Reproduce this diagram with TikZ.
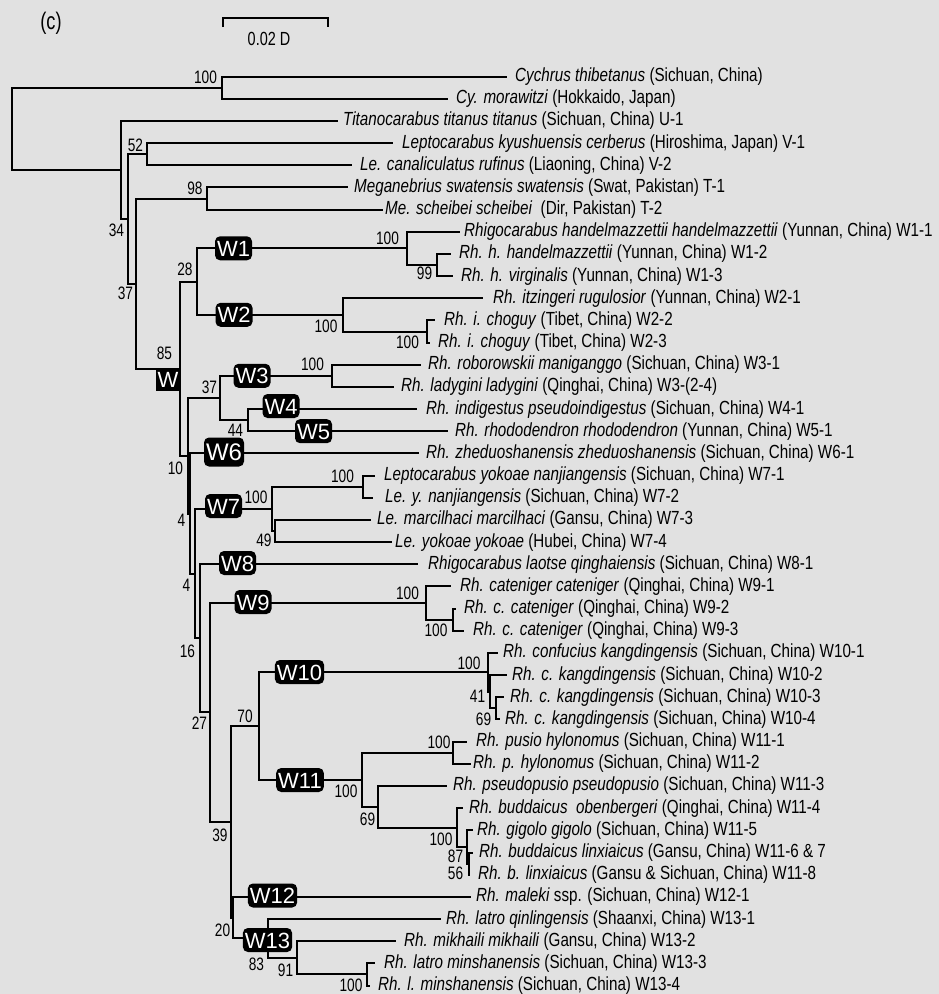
\documentclass[tikz,border=0pt]{standalone}
\usepackage{fontspec}
\setmainfont[FakeStretch=0.76]{Liberation Sans}
\newfontfamily\taxonfont[FakeStretch=0.8]{Liberation Sans}
\newfontfamily\boxfont{Liberation Sans}
\usetikzlibrary{positioning}
\definecolor{bggray}{RGB}{225,225,225}

\tikzset{
  branch/.style={line width=2pt},
  taxon/.style={inner sep=0pt, text height=13.6pt, text depth=0pt, yshift=1.8pt, font=\taxonfont\fontsize{19}{22}\selectfont},
  bs/.style={inner sep=0pt, text height=12.9pt, text depth=0pt, font=\fontsize{18}{21}\selectfont},
  wbox/.style={fill=black, text=white, rounded corners=5pt, font=\boxfont\fontsize{22}{24}\selectfont,
    inner xsep=2pt, inner ysep=0pt, minimum height=24pt, text height=16pt, text depth=0pt}
}

\begin{document}
\begin{tikzpicture}[x=1pt, y=-1pt]
    \useasboundingbox (0,0) rectangle (939,994);
    \fill[bggray] (0,0) rectangle (939,994);

    % Panel letter and scale bar
    \node[bs, font=\fontsize{24}{28}\selectfont, text height=15pt] (panel) at (51,22) {(c)};
    \coordinate (bar-l) at (223,27);
    \coordinate (bar-r) at (328,27);
    \draw[branch] (bar-l) -- ++(0,-9) -| (bar-r);
    \node[bs, font=\fontsize{19}{22}\selectfont] (barlabel) at (269,39) {0.02 D};

    % Internal nodes
    \coordinate (root) at (12,128.8);
    \coordinate (nCy) at (222,87.6);
    \coordinate (nA) at (121,169.9);
    \coordinate (nB) at (128,218.9);
    \coordinate (n52) at (147,154.1);
    \coordinate (nD) at (136,283.6);
    \coordinate (n98) at (207,198.5);
    \coordinate (nW) at (180,368.7);
    \coordinate (n28) at (197,281.6);
    \coordinate (nW1) at (407,248.3);
    \coordinate (n99) at (437,265.0);
    \coordinate (nW2) at (343,314.8);
    \coordinate (nW2b) at (427,331.5);
    \coordinate (nE) at (188,455.8);
    \coordinate (n37) at (220,398.0);
    \coordinate (nW3) at (332,375.8);
    \coordinate (n44) at (248,420.2);
    \coordinate (nE2) at (190,513.5);
    \coordinate (nF) at (195,573.6);
    \coordinate (nW7) at (272,508.8);
    \coordinate (nW7a) at (363,486.7);
    \coordinate (n49) at (275,531.0);
    \coordinate (nG) at (200,638.3);
    \coordinate (nH) at (210,712.4);
    \coordinate (nW9) at (426,603.0);
    \coordinate (nW9b) at (453,619.7);
    \coordinate (nP) at (231,821.8);
    \coordinate (n70) at (259,726.0);
    \coordinate (nW10) at (488,672.3);
    \coordinate (nR) at (490,691.7);
    \coordinate (nS) at (496,708.3);
    \coordinate (nW11) at (362,779.7);
    \coordinate (nW11a) at (453,752.7);
    \coordinate (n69) at (378,806.7);
    \coordinate (nX) at (457,827.5);
    \coordinate (n87) at (467,846.9);
    \coordinate (n56) at (469,863.5);
    \coordinate (nQ) at (233,917.6);
    \coordinate (nW13) at (268,938.4);
    \coordinate (n91) at (297,957.8);
    \coordinate (n100c) at (367,974.4);

    % Tips
    \coordinate (t0) at (507,76.5);
    \coordinate (t1) at (448,98.7);
    \coordinate (t2) at (338,120.8);
    \coordinate (t3) at (393,143.0);
    \coordinate (t4) at (352,165.2);
    \coordinate (t5) at (348,187.4);
    \coordinate (t6) at (383,209.5);
    \coordinate (t7) at (460,231.7);
    \coordinate (t8) at (451,253.9);
    \coordinate (t9) at (453,276.0);
    \coordinate (t10) at (483,298.2);
    \coordinate (t11) at (435,320.4);
    \coordinate (t12) at (430,342.5);
    \coordinate (t13) at (421,364.7);
    \coordinate (t14) at (394,386.9);
    \coordinate (t15) at (417,409.1);
    \coordinate (t16) at (448,431.2);
    \coordinate (t17) at (419,453.4);
    \coordinate (t18) at (375,475.6);
    \coordinate (t19) at (373,497.7);
    \coordinate (t20) at (371,519.9);
    \coordinate (t21) at (392,542.1);
    \coordinate (t22) at (418,564.2);
    \coordinate (t23) at (451,586.4);
    \coordinate (t24) at (456,608.6);
    \coordinate (t25) at (464,630.8);
    \coordinate (t26) at (498,652.9);
    \coordinate (t27) at (507,675.1);
    \coordinate (t28) at (504,697.3);
    \coordinate (t29) at (500,719.4);
    \coordinate (t30) at (467,741.6);
    \coordinate (t31) at (471,763.8);
    \coordinate (t32) at (447,785.9);
    \coordinate (t33) at (463,808.1);
    \coordinate (t34) at (473,830.3);
    \coordinate (t35) at (473,852.5);
    \coordinate (t36) at (470,874.6);
    \coordinate (t37) at (471,896.8);
    \coordinate (t38) at (441,919.0);
    \coordinate (t39) at (396,941.1);
    \coordinate (t40) at (375,963.3);
    \coordinate (t41) at (370,985.5);

    % Branches
    \draw[branch] (root) |- (nCy) (root) |- (nA);
    \draw[branch] (nCy) |- (t0) (nCy) |- (t1);
    \draw[branch] (nA) |- (t2) (nA) |- (nB);
    \draw[branch] (nB) |- (n52) (nB) |- (nD);
    \draw[branch] (n52) |- (t3) (n52) |- (t4);
    \draw[branch] (nD) |- (n98) (nD) |- (nW);
    \draw[branch] (n98) |- (t5) (n98) |- (t6);
    \draw[branch] (nW) |- (n28) (nW) |- (nE);
    \draw[branch] (n28) |- (nW1) (n28) |- (nW2);
    \draw[branch] (nW1) |- (t7) (nW1) |- (n99);
    \draw[branch] (n99) |- (t8) (n99) |- (t9);
    \draw[branch] (nW2) |- (t10) (nW2) |- (nW2b);
    \draw[branch] (nW2b) |- (t11) (nW2b) |- (t12);
    \draw[branch] (nE) |- (n37) (nE) |- (nE2);
    \draw[branch] (n37) |- (nW3) (n37) |- (n44);
    \draw[branch] (nW3) |- (t13) (nW3) |- (t14);
    \draw[branch] (n44) |- (t15) (n44) |- (t16);
    \draw[branch] (nE2) |- (t17) (nE2) |- (nF);
    \draw[branch] (nF) |- (nW7) (nF) |- (nG);
    \draw[branch] (nW7) |- (nW7a) (nW7) |- (n49);
    \draw[branch] (nW7a) |- (t18) (nW7a) |- (t19);
    \draw[branch] (n49) |- (t20) (n49) |- (t21);
    \draw[branch] (nG) |- (t22) (nG) |- (nH);
    \draw[branch] (nH) |- (nW9) (nH) |- (nP);
    \draw[branch] (nW9) |- (t23) (nW9) |- (nW9b);
    \draw[branch] (nW9b) |- (t24) (nW9b) |- (t25);
    \draw[branch] (nP) |- (n70) (nP) |- (nQ);
    \draw[branch] (n70) |- (nW10) (n70) |- (nW11);
    \draw[branch] (nW10) |- (t26) (nW10) |- (nR);
    \draw[branch] (nR) |- (t27) (nR) |- (nS);
    \draw[branch] (nS) |- (t28) (nS) |- (t29);
    \draw[branch] (nW11) |- (nW11a) (nW11) |- (n69);
    \draw[branch] (nW11a) |- (t30) (nW11a) |- (t31);
    \draw[branch] (n69) |- (t32) (n69) |- (nX);
    \draw[branch] (nX) |- (t33) (nX) |- (n87);
    \draw[branch] (n87) |- (t34) (n87) |- (n56);
    \draw[branch] (n56) |- (t35) (n56) |- (t36);
    \draw[branch] (nQ) |- (t37) (nQ) |- (nW13);
    \draw[branch] (nW13) |- (t38) (nW13) |- (n91);
    \draw[branch] (n91) |- (t39) (n91) |- (n100c);
    \draw[branch] (n100c) |- (t40) (n100c) |- (t41);

    % Clade boxes
    \node[wbox, rounded corners=0pt, minimum width=24pt, minimum height=22pt] (bW) at (168,379.5) {W};
    \node[wbox] (bW1) at (233.5,248.3) {W1};
    \node[wbox] (bW2) at (234,314.8) {W2};
    \node[wbox] (bW3) at (252,375.8) {W3};
    \node[wbox] (bW4) at (281,406) {W4};
    \node[wbox] (bW5) at (313.5,431.2) {W5};
    \node[wbox, font=\boxfont\fontsize{24}{26}\selectfont, minimum height=29pt, text height=17.5pt] (bW6) at (224,452) {W6};
    \node[wbox] (bW7) at (223.5,506) {W7};
    \node[wbox] (bW8) at (237.5,563) {W8};
    \node[wbox] (bW9) at (253,602) {W9};
    \node[wbox] (bW10) at (299.5,672) {W10};
    \node[wbox] (bW11) at (300,780) {W11};
    \node[wbox] (bW12) at (272.5,895.5) {W12};
    \node[wbox] (bW13) at (267.5,940) {W13};

    % Bootstrap values
    \node[bs] (sCy) at (205.5,77.5) {100};
    \node[bs] (s52) at (135.5,145) {52};
    \node[bs] (s34) at (116.5,230) {34};
    \node[bs] (s98) at (195,188) {98};
    \node[bs] (sD) at (125.5,293) {37};
    \node[bs] (s85) at (164.5,353) {85};
    \node[bs] (s28) at (185,269) {28};
    \node[bs] (sW1) at (387.5,238) {100};
    \node[bs] (s99) at (424.5,273) {99};
    \node[bs] (sW2) at (326,326) {100};
    \node[bs] (sW2b) at (407.5,342) {100};
    \node[bs] (s37) at (209.5,387) {37};
    \node[bs] (sW3) at (312.5,364) {100};
    \node[bs] (s44) at (235.5,430) {44};
    \node[bs] (s10) at (175.5,468) {10};
    \node[bs] (s4a) at (181.5,520) {4};
    \node[bs] (sW7a) at (342.5,476) {100};
    \node[bs] (sW7) at (256,497) {100};
    \node[bs] (s49) at (264,540) {49};
    \node[bs] (s4b) at (186.5,585) {4};
    \node[bs] (s16) at (187.5,651) {16};
    \node[bs] (s27) at (199.5,723) {27};
    \node[bs] (sW9) at (407.5,593) {100};
    \node[bs] (sW9b) at (436,630) {100};
    \node[bs] (s70) at (245,716) {70};
    \node[bs] (sW10) at (469,663) {100};
    \node[bs] (s41) at (477.5,696) {41};
    \node[bs] (s69a) at (483.5,719) {69};
    \node[bs] (sW11a) at (439,742) {100};
    \node[bs] (sW11) at (346,791) {100};
    \node[bs] (s69b) at (367.5,819) {69};
    \node[bs] (sX) at (441,839) {100};
    \node[bs] (s87) at (455.5,856) {87};
    \node[bs] (s56) at (455.5,873) {56};
    \node[bs] (s39) at (220,835) {39};
    \node[bs] (s20) at (222.5,930) {20};
    \node[bs] (s83) at (256.5,964) {83};
    \node[bs] (s91) at (285.5,970) {91};
    \node[bs] (s100c) at (351,985) {100};

    % Taxa
    \node[taxon, right=8pt of t0] (l0) {\textit{Cychrus thibetanus} (Sichuan, China)};
    \node[taxon, right=8pt of t1] (l1) {\textit{Cy. morawitzi} (Hokkaido, Japan)};
    \node[taxon, right=5pt of t2] (l2) {\textit{Titanocarabus titanus titanus} (Sichuan, China) U-1};
    \node[taxon, right=9pt of t3] (l3) {\textit{Leptocarabus kyushuensis cerberus} (Hiroshima, Japan) V-1};
    \node[taxon, right=8pt of t4] (l4) {\textit{Le. canaliculatus rufinus} (Liaoning, China) V-2};
    \node[taxon, right=6pt of t5] (l5) {\textit{Meganebrius swatensis swatensis} (Swat, Pakistan) T-1};
    \node[taxon, right=2pt of t6] (l6) {\textit{Me. scheibei scheibei}\ \ (Dir, Pakistan) T-2};
    \node[taxon, right=4pt of t7] (l7) {\textit{Rhigocarabus handelmazzettii handelmazzettii} (Yunnan, China) W1-1};
    \node[taxon, right=8pt of t8] (l8) {\textit{Rh. h. handelmazzettii} (Yunnan, China) W1-2};
    \node[taxon, right=8pt of t9] (l9) {\textit{Rh. h. virginalis} (Yunnan, China) W1-3};
    \node[taxon, right=10pt of t10] (l10) {\textit{Rh. itzingeri rugulosior} (Yunnan, China) W2-1};
    \node[taxon, right=9pt of t11] (l11) {\textit{Rh. i. choguy} (Tibet, China) W2-2};
    \node[taxon, right=8pt of t12] (l12) {\textit{Rh. i. choguy} (Tibet, China) W2-3};
    \node[taxon, right=7pt of t13] (l13) {\textit{Rh. roborowskii maniganggo} (Sichuan, China) W3-1};
    \node[taxon, right=7pt of t14] (l14) {\textit{Rh. ladygini ladygini} (Qinghai, China) W3-(2-4)};
    \node[taxon, right=9pt of t15] (l15) {\textit{Rh. indigestus pseudoindigestus} (Sichuan, China) W4-1};
    \node[taxon, right=7pt of t16] (l16) {\textit{Rh. rhododendron rhododendron} (Yunnan, China) W5-1};
    \node[taxon, right=7pt of t17] (l17) {\textit{Rh. zheduoshanensis zheduoshanensis} (Sichuan, China) W6-1};
    \node[taxon, right=9pt of t18] (l18) {\textit{Leptocarabus yokoae nanjiangensis} (Sichuan, China) W7-1};
    \node[taxon, right=12pt of t19] (l19) {\textit{Le. y. nanjiangensis} (Sichuan, China) W7-2};
    \node[taxon, right=6pt of t20] (l20) {\textit{Le. marcilhaci marcilhaci} (Gansu, China) W7-3};
    \node[taxon, right=3pt of t21] (l21) {\textit{Le. yokoae yokoae} (Hubei, China) W7-4};
    \node[taxon, right=10pt of t22] (l22) {\textit{Rhigocarabus laotse qinghaiensis} (Sichuan, China) W8-1};
    \node[taxon, right=9pt of t23] (l23) {\textit{Rh. cateniger cateniger} (Qinghai, China) W9-1};
    \node[taxon, right=8pt of t24] (l24) {\textit{Rh. c. cateniger} (Qinghai, China) W9-2};
    \node[taxon, right=9pt of t25] (l25) {\textit{Rh. c. cateniger} (Qinghai, China) W9-3};
    \node[taxon, right=5pt of t26] (l26) {\textit{Rh. confucius kangdingensis} (Sichuan, China) W10-1};
    \node[taxon, right=5pt of t27] (l27) {\textit{Rh. c. kangdingensis} (Sichuan, China) W10-2};
    \node[taxon, right=6pt of t28] (l28) {\textit{Rh. c. kangdingensis} (Sichuan, China) W10-3};
    \node[taxon, right=5pt of t29] (l29) {\textit{Rh. c. kangdingensis} (Sichuan, China) W10-4};
    \node[taxon, right=9pt of t30] (l30) {\textit{Rh. pusio hylonomus} (Sichuan, China) W11-1};
    \node[taxon, right=2pt of t31] (l31) {\textit{Rh. p. hylonomus} (Sichuan, China) W11-2};
    \node[taxon, right=6pt of t32] (l32) {\textit{Rh. pseudopusio pseudopusio} (Sichuan, China) W11-3};
    \node[taxon, right=6pt of t33] (l33) {\textit{Rh. buddaicus\ \ obenbergeri} (Qinghai, China) W11-4};
    \node[taxon, right=4pt of t34] (l34) {\textit{Rh. gigolo gigolo} (Sichuan, China) W11-5};
    \node[taxon, right=6pt of t35] (l35) {\textit{Rh. buddaicus linxiaicus} (Gansu, China) W11-6 \& 7};
    \node[taxon, right=8pt of t36] (l36) {\textit{Rh. b. linxiaicus} (Gansu \& Sichuan, China) W11-8};
    \node[taxon, right=5pt of t37] (l37) {\textit{Rh. maleki} ssp. (Sichuan, China) W12-1};
    \node[taxon, right=5pt of t38] (l38) {\textit{Rh. latro qinlingensis} (Shaanxi, China) W13-1};
    \node[taxon, right=8pt of t39] (l39) {\textit{Rh. mikhaili mikhaili} (Gansu, China) W13-2};
    \node[taxon, right=9pt of t40] (l40) {\textit{Rh. latro minshanensis} (Sichuan, China) W13-3};
    \node[taxon, right=8pt of t41] (l41) {\textit{Rh. l. minshanensis} (Sichuan, China) W13-4};
\end{tikzpicture}
\end{document}
